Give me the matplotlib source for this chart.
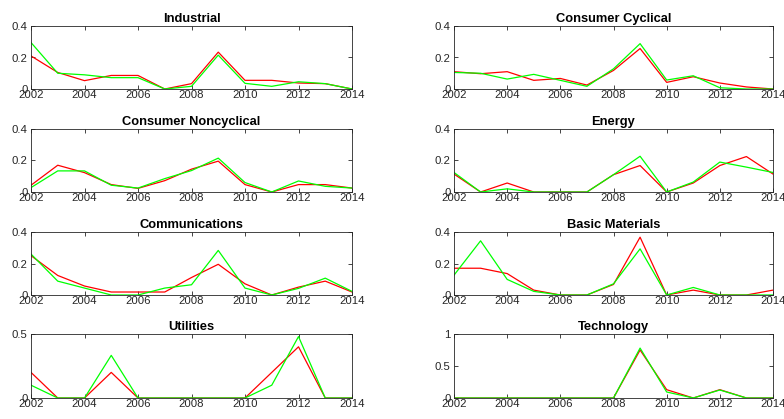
import matplotlib
matplotlib.use("Agg")
import matplotlib.pyplot as plt

years = list(range(2002, 2015))

titles = ["Industrial", "Consumer Cyclical", "Consumer Noncyclical", "Energy",
          "Communications", "Basic Materials", "Utilities", "Technology"]

industrial_red = [0.21, 0.105, 0.053, 0.086, 0.086, 0.0, 0.034, 0.234, 0.055, 0.055, 0.038, 0.034, 0.0]
industrial_green = [0.295, 0.1, 0.09, 0.072, 0.072, 0.0, 0.017, 0.215, 0.036, 0.017, 0.046, 0.034, 0.0]

cyclical_red = [0.11, 0.097, 0.11, 0.055, 0.067, 0.025, 0.118, 0.257, 0.042, 0.078, 0.038, 0.013, 0.0]
cyclical_green = [0.105, 0.1, 0.063, 0.093, 0.055, 0.017, 0.128, 0.288, 0.057, 0.084, 0.008, 0.0, 0.0]

noncyclical_red = [0.043, 0.17, 0.123, 0.047, 0.023, 0.072, 0.145, 0.196, 0.047, 0.0, 0.047, 0.047, 0.025]
noncyclical_green = [0.028, 0.134, 0.134, 0.043, 0.025, 0.085, 0.136, 0.215, 0.06, 0.0, 0.07, 0.036, 0.025]

energy_red = [0.114, 0.0, 0.057, 0.0, 0.0, 0.0, 0.11, 0.168, 0.0, 0.057, 0.168, 0.225, 0.114]
energy_green = [0.124, 0.0, 0.02, 0.0, 0.0, 0.0, 0.11, 0.227, 0.0, 0.063, 0.19, 0.158, 0.124]

comm_red = [0.25, 0.124, 0.057, 0.019, 0.019, 0.019, 0.111, 0.195, 0.071, 0.0, 0.05, 0.088, 0.019]
comm_green = [0.26, 0.088, 0.044, 0.0, 0.0, 0.044, 0.065, 0.283, 0.044, 0.0, 0.042, 0.107, 0.023]

basic_red = [0.17, 0.17, 0.136, 0.031, 0.0, 0.0, 0.067, 0.367, 0.0, 0.031, 0.0, 0.0, 0.031]
basic_green = [0.126, 0.344, 0.099, 0.023, 0.0, 0.0, 0.071, 0.293, 0.0, 0.048, 0.0, 0.0, 0.0]

util_red = [0.2, 0.0, 0.0, 0.2, 0.0, 0.0, 0.0, 0.0, 0.0, 0.2, 0.4, 0.0, 0.0]
util_green = [0.1, 0.0, 0.0, 0.333, 0.0, 0.0, 0.0, 0.0, 0.0, 0.1, 0.48, 0.0, 0.0]

tech_red = [0.0, 0.0, 0.0, 0.0, 0.0, 0.0, 0.0, 0.75, 0.13, 0.0, 0.13, 0.0, 0.0]
tech_green = [0.0, 0.0, 0.0, 0.0, 0.0, 0.0, 0.0, 0.78, 0.094, 0.0, 0.125, 0.0, 0.0]

red_series = [industrial_red, cyclical_red, noncyclical_red, energy_red,
              comm_red, basic_red, util_red, tech_red]
green_series = [industrial_green, cyclical_green, noncyclical_green, energy_green,
                comm_green, basic_green, util_green, tech_green]

ylims = [0.4, 0.4, 0.4, 0.4, 0.4, 0.4, 0.5, 1.0]
yticks = [[0, 0.2, 0.4]] * 6 + [[0, 0.5], [0, 0.5, 1]]
ytick_labels = [["0", "0.2", "0.4"]] * 6 + [["0", "0.5"], ["0", "0.5", "1"]]
xticks = [2002, 2004, 2006, 2008, 2010, 2012, 2014]

plt.rcParams['font.family'] = ['Liberation Sans', 'DejaVu Sans']

fig = plt.figure(figsize=(7.84, 4.19), dpi=100)

W, H = 784, 419
col_x = [(31, 352), (454, 773)]
row_y = [(26, 89), (129, 192), (232, 295), (334, 398)]

frame_col = (0.15, 0.15, 0.15)
for i in range(8):
    r, c = divmod(i, 2)
    x0, x1 = col_x[c]
    y0, y1 = row_y[r]
    ax = fig.add_axes([x0 / W, 1 - y1 / H, (x1 - x0) / W, (y1 - y0) / H])
    ax.plot(years, red_series[i], color=(1, 0, 0), lw=0.9)
    ax.plot(years, green_series[i], color=(0, 1, 0), lw=0.9)
    ax.set_xlim(2002, 2014)
    ax.set_ylim(0, ylims[i])
    ax.set_xticks(xticks)
    ax.set_xticklabels([str(x) for x in xticks])
    ax.set_yticks(yticks[i])
    ax.set_yticklabels(ytick_labels[i])
    ax.tick_params(axis='x', direction='in', top=True, length=3, width=0.6,
                   labelsize=8.2, colors=frame_col, pad=1.0)
    ax.tick_params(axis='y', direction='in', right=True, length=3, width=0.6,
                   labelsize=8.2, colors=frame_col, pad=2.5)
    for s in ax.spines.values():
        s.set_color(frame_col)
        s.set_linewidth(0.6)
    ax.set_title(titles[i], fontsize=9.3, fontweight='bold', pad=3)

fig.savefig("out.png", dpi=100)
